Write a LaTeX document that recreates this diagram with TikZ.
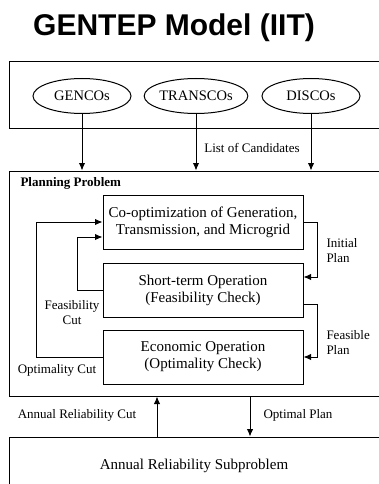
\documentclass[tikz,border=0pt]{standalone}
\usepackage{fontspec}
\setmainfont{Liberation Serif}
\newfontfamily\headfont{Liberation Sans}
\usetikzlibrary{shapes.geometric,arrows.meta}

\begin{document}
\begin{tikzpicture}[x=1pt, y=-1pt, line width=1pt,
    stage/.style={draw, minimum width=200pt, minimum height=54pt, inner sep=0pt,
      align=center, font=\fontsize{15}{17}\selectfont},
    frame/.style={draw, minimum width=386pt, inner sep=0pt},
    party/.style={draw, ellipse, minimum width=98pt, minimum height=35pt,
      inner sep=0pt, font=\fontsize{14.5}{17}\selectfont},
    tag/.style={inner sep=0pt, align=center, font=\fontsize{13}{15}\selectfont},
    flow/.style={-{Latex[length=7.5pt,width=6.5pt]}}]
    \useasboundingbox (0,0) rectangle (379,484);
    \clip (0,0) rectangle (379,484);

    % Title
    \node[anchor=base, font=\headfont\bfseries\fontsize{30}{35}\selectfont]
      (title) at (174,36) {GENTEP Model (IIT)};

    % outer frames (cut at the right and bottom edge)
    \node[frame, minimum height=66pt] (agents) at (202,95) {};
    \node[frame, minimum height=225pt] (plan) at (202,283.5) {};
    \node[frame, minimum height=63pt] (rel) at (202,468.5) {};

    % market participants
    \node[party] (gen) at (82,96) {GENCOs};
    \node[party] (trans) at (196,96) {TRANSCOs};
    \node[party] (dis) at (311,96) {DISCOs};
    \foreach \p in {gen, trans, dis}
      \draw[flow] (\p) -- (\p |- plan.north);
    \node[tag] (cand) at (252,148) {List of Candidates};

    % planning problem
    \node[tag, anchor=west, font=\bfseries\fontsize{13}{15}\selectfont]
      (plantitle) at (20,183) {Planning Problem};
    \node[stage] (coopt) at (203,222) {Co-optimization of Generation,\\Transmission, and Microgrid};
    \node[stage] (short) at (203,290) {Short-term Operation\\(Feasibility Check)};
    \node[stage] (econ) at (203,357) {Economic Operation\\(Optimality Check)};

    % cuts going back
    \coordinate (fcut) at (77,237);
    \coordinate (ocut) at (36,222);
    \draw[flow] (short.west) -| (fcut) -- (fcut -| coopt.west);
    \draw[flow] (econ.west) -| (ocut) -- (coopt.west);
    \node[tag] (fclabel) at (72,313) {Feasibility\\Cut};
    \node[tag] (oclabel) at (57,370) {Optimality Cut};

    % plans going forward
    \coordinate (iplan) at (317,277);
    \coordinate (fplan) at (317,304);
    \draw[flow] (coopt.east) -| (iplan) -- (iplan -| short.east);
    \draw[flow] (fplan -| short.east) -- (fplan) |- (econ.east);
    \node[tag, anchor=west, align=left] (iplabel) at (326,251) {Initial\\Plan};
    \node[tag, anchor=west, align=left] (fplabel) at (326,343) {Feasible\\Plan};

    % reliability subproblem
    \node[font=\fontsize{15}{17}\selectfont] (relsub) at (194,466) {Annual Reliability Subproblem};
    \coordinate (rcut) at (157,0);
    \coordinate (oplan) at (250,0);
    \draw[flow] (rcut |- rel.north) -- (rcut |- plan.south);
    \draw[flow] (oplan |- plan.south) -- (oplan |- rel.north);
    \node[tag] (rclabel) at (77,415) {Annual Reliability Cut};
    \node[tag] (oplabel) at (298,415) {Optimal Plan};
\end{tikzpicture}
\end{document}
